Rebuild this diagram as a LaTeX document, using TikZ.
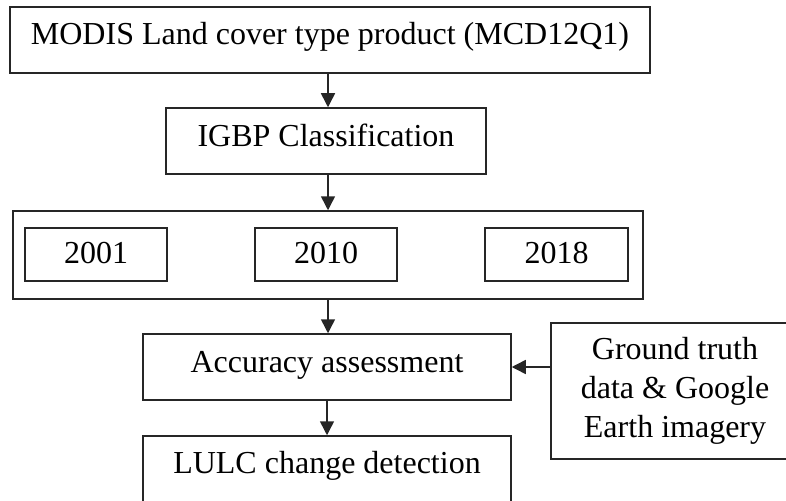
\documentclass[tikz,border=0pt]{standalone}
\usepackage{fontspec}
\setmainfont{Liberation Serif}
\usetikzlibrary{arrows.meta}
\tikzset{
  box/.style={draw=black!85, line width=1.5pt, inner xsep=0pt, inner ysep=0pt,
    font=\fontsize{32}{39}\selectfont, align=center},
  flow/.style={draw=black!85, line width=1.5pt, -{Triangle[length=14pt,width=14pt]}}
}
\begin{document}
\begin{tikzpicture}[x=1pt,y=-1pt]
\useasboundingbox (0,0) rectangle (786,500);
\clip (0,0) rectangle (786,500);
\node[box, anchor=base, minimum width=640pt, text height=38pt, text depth=28pt] (modis) at (330,45) {MODIS Land cover type product (MCD12Q1)};
\node[box, anchor=base, minimum width=320pt, text height=38pt, text depth=28pt] (igbp) at (326,146) {IGBP Classification};
\node[box, minimum width=630pt, minimum height=88pt] (years) at (328,255) {};
\node[box, anchor=base, minimum width=142pt, text height=35pt, text depth=18pt] (y1) at (96,263) {2001};
\node[box, anchor=base, minimum width=142pt, text height=35pt, text depth=18pt] (y2) at (326,263) {2010};
\node[box, anchor=base, minimum width=143pt, text height=35pt, text depth=18pt] (y3) at (556.5,263) {2018};
\node[box, anchor=base, minimum width=368pt, text height=38pt, text depth=28pt] (acc) at (327,372) {Accuracy assessment};
\node[box, anchor=base, minimum width=368pt, text height=37pt, text depth=37pt] (lulc) at (327,473) {LULC change detection};
\node[box, minimum width=248pt, minimum height=136pt] (gt) at (675,391) {Ground truth\\data \& Google\\Earth imagery};
\draw[flow] (modis.south -| years.north) -- (igbp.north -| years.north);
\draw[flow] (igbp.south -| years.north) -- (years.north);
\draw[flow] (years.south) -- (acc.north -| years.south);
\draw[flow] (acc.south) -- (lulc.north);
\draw[flow] (gt.west |- acc.east) -- (acc.east);
\end{tikzpicture}
\end{document}
